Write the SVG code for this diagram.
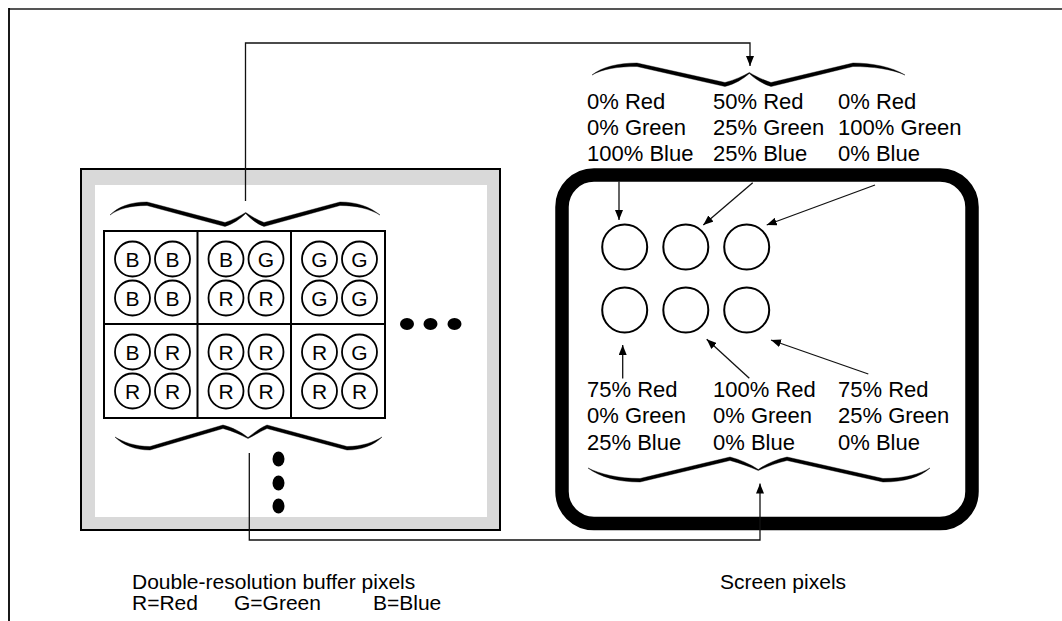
<svg xmlns="http://www.w3.org/2000/svg" width="1062" height="621" viewBox="0 0 1062 621">
<style>
text{font-family:"Liberation Sans",Arial,sans-serif;fill:#000}
.lbl{font-size:22px}
.cap{font-size:21px}
.ltr{font-size:21px;text-anchor:middle}
.cell{fill:none;stroke:#000;stroke-width:2}
.pc{fill:#fff;stroke:#000;stroke-width:1.8}
.sc{fill:#fff;stroke:#000;stroke-width:2}
.conn{fill:none;stroke:#111;stroke-width:1.3}
.arr{fill:none;stroke:#111;stroke-width:1.3;marker-end:url(#ah)}
.brace{fill:#000;stroke:#000;stroke-width:0.4}
.dot{fill:#000}
</style>
<defs>
<marker id="ah" markerUnits="userSpaceOnUse" markerWidth="10" markerHeight="8" refX="10" refY="4" orient="auto">
<path d="M0,0 L10,4 L0,8 Z" fill="#000"/>
</marker>
</defs>
<rect width="1062" height="621" fill="#fff"/>
<g id="frame">
<line x1="9" y1="9" x2="1062" y2="9" stroke="#555" stroke-width="2"/>
<line x1="9" y1="8" x2="9" y2="621" stroke="#000" stroke-width="1.8"/>
</g>
<g id="buffer">
<rect x="81" y="169" width="419" height="361" fill="#d9d9d9" stroke="#000" stroke-width="2"/>
<rect x="95" y="185" width="392" height="332" fill="#fff"/>
<path class="brace" d="M110,215 C118,207 130,202 147,202 L225,222.5 C233,220 240,216 245.7,212.5 C251,216 257,220 264,222.5 L340,202 C357,202 370,207 380,215 C370,209 357,205.5 340,205.5 L264,226.5 C257,224 251,219 245.7,213.5 C240,219 233,224 225,226.5 L147,205.5 C130,205.5 118,209 110,215 Z"/>
<path class="brace" d="M115,437 C123,445 135,450 150,450 L223,428.5 C233,431 241,435 248,438.5 C255,435 261,431 267,428.5 L347,450 C362,450 374,445 382,437 C374,442 362,446.5 347,446.5 L267,425 C261,427.5 255,432 248,437.5 C241,432 233,427.5 223,425 L150,446.5 C135,446.5 123,442 115,437 Z"/>
<rect class="cell" x="104" y="231" width="281" height="187"/>
<line class="cell" x1="197.5" y1="231" x2="197.5" y2="418"/>
<line class="cell" x1="291" y1="231" x2="291" y2="418"/>
<line class="cell" x1="104" y1="324" x2="385" y2="324"/>
<g id="cell11">
<circle class="pc" cx="132.5" cy="259" r="17.5"/><text class="ltr" x="132.5" y="266.5">B</text>
<circle class="pc" cx="172.5" cy="259" r="17.5"/><text class="ltr" x="172.5" y="266.5">B</text>
<circle class="pc" cx="132.5" cy="298" r="17.5"/><text class="ltr" x="132.5" y="305.5">B</text>
<circle class="pc" cx="172.5" cy="298" r="17.5"/><text class="ltr" x="172.5" y="305.5">B</text>
</g>
<g id="cell12">
<circle class="pc" cx="226" cy="259" r="17.5"/><text class="ltr" x="226" y="266.5">B</text>
<circle class="pc" cx="266" cy="259" r="17.5"/><text class="ltr" x="266" y="266.5">G</text>
<circle class="pc" cx="226" cy="298" r="17.5"/><text class="ltr" x="226" y="305.5">R</text>
<circle class="pc" cx="266" cy="298" r="17.5"/><text class="ltr" x="266" y="305.5">R</text>
</g>
<g id="cell13">
<circle class="pc" cx="319.5" cy="259" r="17.5"/><text class="ltr" x="319.5" y="266.5">G</text>
<circle class="pc" cx="359.5" cy="259" r="17.5"/><text class="ltr" x="359.5" y="266.5">G</text>
<circle class="pc" cx="319.5" cy="298" r="17.5"/><text class="ltr" x="319.5" y="305.5">G</text>
<circle class="pc" cx="359.5" cy="298" r="17.5"/><text class="ltr" x="359.5" y="305.5">G</text>
</g>
<g id="cell21">
<circle class="pc" cx="132.5" cy="352" r="17.5"/><text class="ltr" x="132.5" y="359.5">B</text>
<circle class="pc" cx="172.5" cy="352" r="17.5"/><text class="ltr" x="172.5" y="359.5">R</text>
<circle class="pc" cx="132.5" cy="391" r="17.5"/><text class="ltr" x="132.5" y="398.5">R</text>
<circle class="pc" cx="172.5" cy="391" r="17.5"/><text class="ltr" x="172.5" y="398.5">R</text>
</g>
<g id="cell22">
<circle class="pc" cx="226" cy="352" r="17.5"/><text class="ltr" x="226" y="359.5">R</text>
<circle class="pc" cx="266" cy="352" r="17.5"/><text class="ltr" x="266" y="359.5">R</text>
<circle class="pc" cx="226" cy="391" r="17.5"/><text class="ltr" x="226" y="398.5">R</text>
<circle class="pc" cx="266" cy="391" r="17.5"/><text class="ltr" x="266" y="398.5">R</text>
</g>
<g id="cell23">
<circle class="pc" cx="319.5" cy="352" r="17.5"/><text class="ltr" x="319.5" y="359.5">R</text>
<circle class="pc" cx="359.5" cy="352" r="17.5"/><text class="ltr" x="359.5" y="359.5">G</text>
<circle class="pc" cx="319.5" cy="391" r="17.5"/><text class="ltr" x="319.5" y="398.5">R</text>
<circle class="pc" cx="359.5" cy="391" r="17.5"/><text class="ltr" x="359.5" y="398.5">R</text>
</g>
<ellipse class="dot" cx="407" cy="324" rx="7" ry="6"/>
<ellipse class="dot" cx="430.5" cy="324" rx="7" ry="6"/>
<ellipse class="dot" cx="454.5" cy="324" rx="7" ry="6"/>
<ellipse class="dot" cx="278.5" cy="459" rx="6" ry="7.5"/>
<ellipse class="dot" cx="278.5" cy="483" rx="6" ry="7.5"/>
<ellipse class="dot" cx="278.5" cy="506" rx="6" ry="7.5"/>
</g>
<g id="screen">
<rect x="562" y="175" width="410" height="348.5" rx="32" ry="32" fill="#fff" stroke="#000" stroke-width="13.5"/>
<circle class="sc" cx="624.7" cy="247" r="22.5"/>
<circle class="sc" cx="685.8" cy="247" r="22.5"/>
<circle class="sc" cx="746.7" cy="247" r="22.5"/>
<circle class="sc" cx="624.7" cy="310" r="22.5"/>
<circle class="sc" cx="685.8" cy="310" r="22.5"/>
<circle class="sc" cx="746.7" cy="310" r="22.5"/>
<path class="brace" d="M588,468 C600,477 618,482 640,482 L730,460.5 C740,463 750,467 758.3,470.5 C766,467 776,463 787,460.5 L883,482 C905,482 920,477 930,468 C920,474 905,478.5 883,478.5 L787,457 C776,459.5 766,464 758.3,469.5 C750,464 740,459.5 730,457 L640,478.5 C618,478.5 600,474 588,468 Z"/>
</g>
<g id="screen-top-labels">
<path class="brace" d="M592,75 C602,67 618,63 637,63 L725,82.5 C735,80 743,76 749.3,72.5 C755,76 763,80 771,82.5 L853,63 C872,63 892,67 905,75 C892,69 872,66.5 853,66.5 L771,86.5 C763,84 755,79 749.3,73.5 C743,79 735,84 725,86.5 L637,66.5 C618,66.5 602,69 592,75 Z"/>
<text class="lbl" x="587" y="108.5">0% Red</text>
<text class="lbl" x="587" y="134.5">0% Green</text>
<text class="lbl" x="587" y="160.5">100% Blue</text>
<text class="lbl" x="713" y="108.5">50% Red</text>
<text class="lbl" x="713" y="134.5">25% Green</text>
<text class="lbl" x="713" y="160.5">25% Blue</text>
<text class="lbl" x="838" y="108.5">0% Red</text>
<text class="lbl" x="838" y="134.5">100% Green</text>
<text class="lbl" x="838" y="160.5">0% Blue</text>
</g>
<g id="screen-bottom-labels">
<text class="lbl" x="587" y="396.5">75% Red</text>
<text class="lbl" x="587" y="423">0% Green</text>
<text class="lbl" x="587" y="449.5">25% Blue</text>
<text class="lbl" x="713" y="396.5">100% Red</text>
<text class="lbl" x="713" y="423">0% Green</text>
<text class="lbl" x="713" y="449.5">0% Blue</text>
<text class="lbl" x="838" y="396.5">75% Red</text>
<text class="lbl" x="838" y="423">25% Green</text>
<text class="lbl" x="838" y="449.5">0% Blue</text>
</g>
<g id="connectors">
<path class="arr" d="M245.5,201 V43 H750 V66"/>
<path class="arr" d="M249.3,453 V540 H760 V483.5"/>
<path class="arr" d="M619,181.5 V220"/>
<path class="arr" d="M752.7,182.7 L703.3,225"/>
<path class="arr" d="M875,185 L766.7,225"/>
<path class="arr" d="M622.7,378.5 V345"/>
<path class="arr" d="M749.3,378.3 L706.7,339.3"/>
<path class="arr" d="M868.3,374 L771,340"/>
</g>
<g id="captions">
<text class="cap" x="132" y="589">Double-resolution buffer pixels</text>
<text class="cap" x="132" y="610">R=Red</text>
<text class="cap" x="234" y="610">G=Green</text>
<text class="cap" x="373" y="610">B=Blue</text>
<text class="cap" x="720" y="589">Screen pixels</text>
</g>
</svg>
